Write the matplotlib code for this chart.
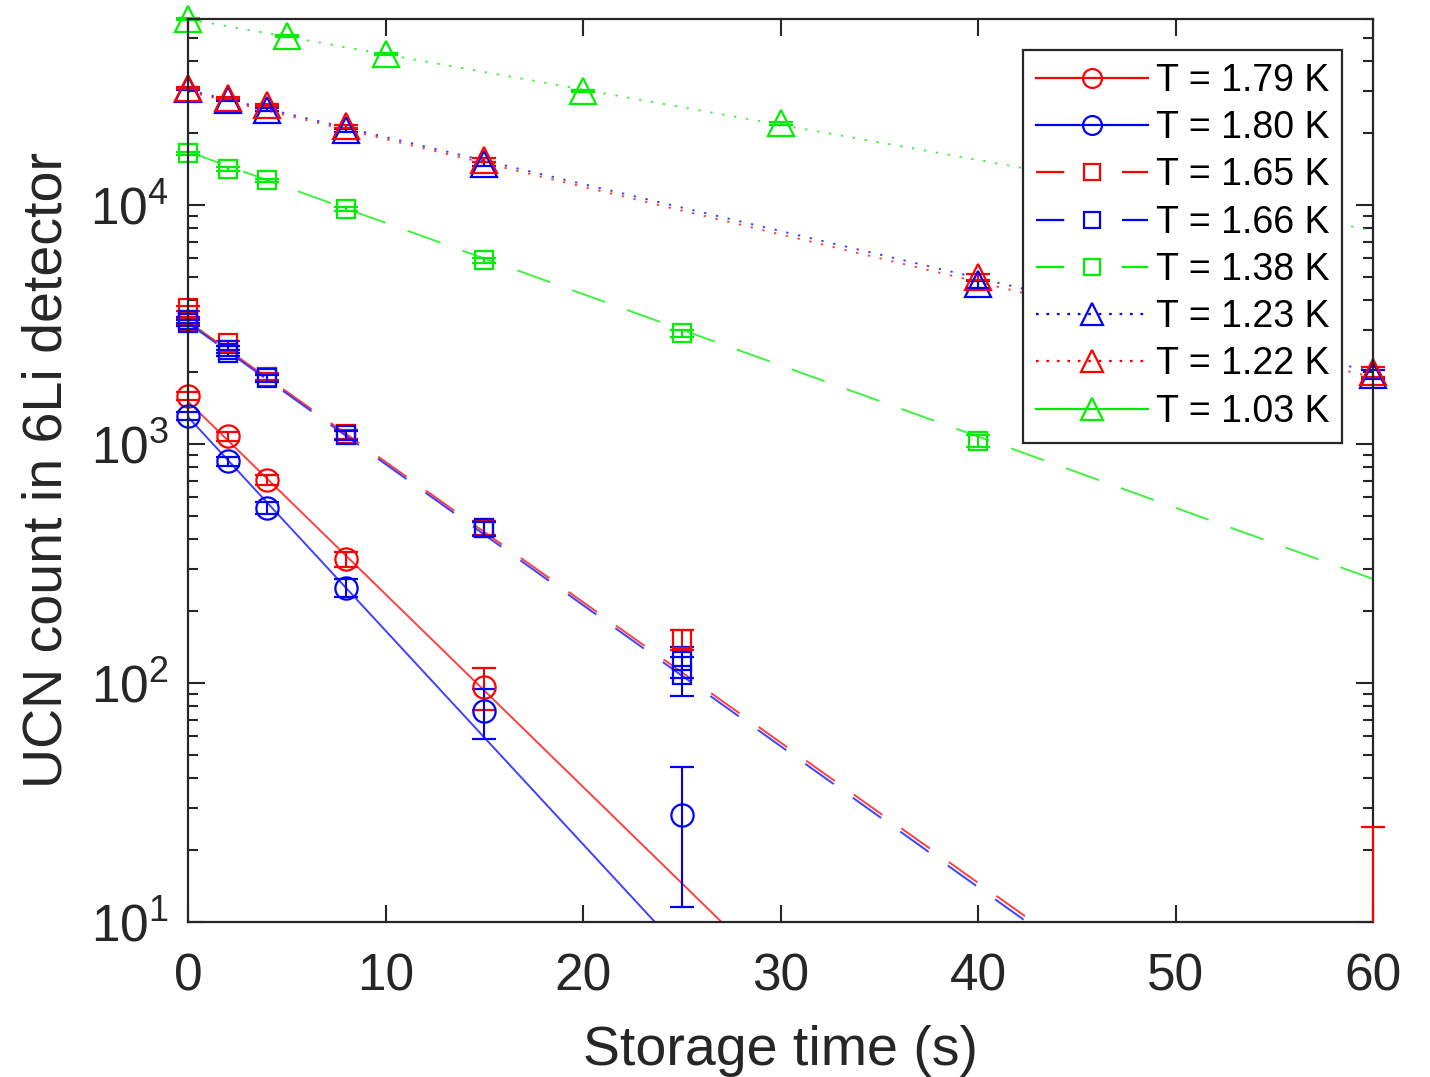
import matplotlib
matplotlib.use('Agg')
import matplotlib.pyplot as plt
from matplotlib.lines import Line2D
from matplotlib.ticker import LogLocator, FixedLocator, NullFormatter
from matplotlib.transforms import Bbox, TransformedBbox
import numpy as np

plt.rcParams['font.family'] = ['Liberation Sans', 'DejaVu Sans']
plt.rcParams['mathtext.default'] = 'regular'

# storage time (s), counts and errors per temperature
t179 = [0, 2, 4, 8, 15]
n179 = [1590, 1075, 708, 330, 96]
e179 = [60, 45, 35, 24, 19]

t180 = [0, 2, 4, 8, 15, 25]
n180 = [1310, 845, 540, 250, 76, 28]
e180 = [55, 40, 30, 22, 18, 16.5]

t165 = [0, 0, 2, 4, 8, 15, 25]
n165 = [3690, 3250, 2630, 1910, 1095, 445, 152]
e165 = [90, 85, 75, 65, 50, 30, 15]

# last 1.65 K point lies below the axis range, only its upper bar shows
t165_low = [60]
n165_low = [3]
e165_low = [22]

t166 = [0, 0, 2, 2, 4, 8, 15, 25, 25]
n166 = [3300, 3200, 2480, 2400, 1880, 1085, 443, 123, 108]
e166 = [85, 85, 75, 75, 65, 50, 30, 18, 20]

t138 = [0, 2, 4, 8, 15, 25, 40]
n138 = [16450, 14150, 12650, 9570, 5860, 2900, 1030]
e138 = [250, 230, 220, 190, 150, 100, 60]

t123 = [0, 2, 4, 8, 15, 40, 60]
n123 = [30500, 27500, 25000, 20500, 14800, 4650, 1950]
e123 = [350, 330, 320, 290, 240, 140, 90]

t122 = [0, 2, 4, 8, 15, 40, 60]
n122 = [30800, 28000, 26200, 21300, 15400, 5000, 2000]
e122 = [350, 330, 320, 290, 240, 140, 90]

t103 = [0, 5, 10, 20, 30]
n103 = [59800, 51000, 42800, 30000, 21900]
e103 = [500, 450, 400, 350, 300]

# exponential fits, values at start and end of the time range
fit_t = [0, 60]
fit179 = [1503, 0.0219]
fit180 = [1295, 0.00562]
fit165 = [3250, 0.976]
fit166 = [3200, 0.924]
fit138 = [16700, 272]
fit123 = [30200, 2000]
fit122 = [29800, 1900]
fit103 = [59800, 7820]

labels = ['T = 1.79 K', 'T = 1.80 K', 'T = 1.65 K', 'T = 1.66 K',
          'T = 1.38 K', 'T = 1.23 K', 'T = 1.22 K', 'T = 1.03 K']

red, blue, green = '#ff0000', '#0000ff', '#00ee00'
dash = (0, (18, 12))
dot = (0, (1.2, 5))

series = [
    (t179, n179, e179, fit179, red, 'o', 16, '-'),
    (t180, n180, e180, fit180, blue, 'o', 16, '-'),
    (t165, n165, e165, fit165, red, 's', 13, dash),
    (t166, n166, e166, fit166, blue, 's', 13, dash),
    (t138, n138, e138, fit138, green, 's', 13, dash),
    (t123, n123, e123, fit123, blue, '^', 19, dot),
    (t122, n122, e122, fit122, red, '^', 19, dot),
    (t103, n103, e103, fit103, green, '^', 19, dot),
]
leg_dash = (0, (12.7, 26))
leg_dot = (0, (1.2, 3.5))
legend_styles = ['-', '-', leg_dash, leg_dash, leg_dash, leg_dot, leg_dot, '-']

fig = plt.figure(figsize=(14.3, 10.77), dpi=100)
ax = fig.add_axes([0.1315, 0.144, 0.8287, 0.8385])

eb_style = dict(mew=1.6, elinewidth=1.5, capsize=8.5, capthick=1.5)

for t, n, e, fit, c, m, ms, ls in series:
    ax.plot(fit_t, fit, color=c, linestyle=ls, linewidth=1.4, alpha=0.75)
    pts, caps, bars = ax.errorbar(t, n, yerr=e, fmt=m, color=c, mfc='none',
                                  mec=c, ms=ms, **eb_style)
    # markers and caps may stick out past the axes edges
    pts.set_clip_on(False)
    for cap in caps:
        cap.set_clip_on(False)

# error bar of the point below the range: cut at the bottom axis only,
# drawn over the right spine
low_err = [[n165_low[0] - 0.1], e165_low]
pts, caps, bars = ax.errorbar(t165_low, n165_low, yerr=low_err, fmt='s',
                              color=red, mfc='none', mec=red, ms=13,
                              zorder=4, **eb_style)
wide = TransformedBbox(Bbox([[-0.05, 0.0], [1.05, 1.2]]), ax.transAxes)
for b in bars:
    b.set_clip_box(wide)
for cap in caps:
    cap.set_clip_on(False)

ax.set_yscale('log')
ax.set_xlim(0, 60)
ax.set_ylim(10, 6e4)

ax.xaxis.set_major_locator(FixedLocator([0, 10, 20, 30, 40, 50, 60]))
ax.yaxis.set_major_locator(FixedLocator([10, 100, 1000, 10000]))
ax.set_yticklabels(['$10^{1}$', '$10^{2}$', '$10^{3}$', '$10^{4}$'])
ax.yaxis.set_minor_locator(LogLocator(base=10, subs=np.arange(2, 10)))
ax.yaxis.set_minor_formatter(NullFormatter())

ax.tick_params(which='both', direction='in', top=True, right=True,
               colors='#262626', labelsize=37, width=1.5)
ax.tick_params(which='major', length=12)
ax.tick_params(axis='x', which='major', pad=22)
ax.tick_params(axis='y', which='major', pad=14)
ax.tick_params(which='minor', length=7)
for s in ax.spines.values():
    s.set_color('#262626')
    s.set_linewidth(1.6)

ax.set_xlabel('Storage time (s)', fontsize=40, color='#262626', labelpad=17)
ax.set_ylabel('UCN count in 6Li detector', fontsize=40, color='#262626',
              labelpad=12)

handles = []
for (t, n, e, fit, c, m, ms, ls), lls in zip(series, legend_styles):
    handles.append(Line2D([], [], color=c, linestyle=lls, linewidth=1.6,
                          marker=m, ms=ms * 0.85, mfc='none', mec=c, mew=1.6))
leg = ax.legend(handles, labels, loc='upper right', fontsize=27,
                handlelength=3.0, handletextpad=0.2, labelspacing=0.3,
                borderpad=0.35, borderaxespad=0,
                bbox_to_anchor=(0.974, 0.9657),
                fancybox=False, framealpha=1, edgecolor='#262626')
leg.get_frame().set_linewidth(1.6)

fig.savefig('out.png', dpi=100)
